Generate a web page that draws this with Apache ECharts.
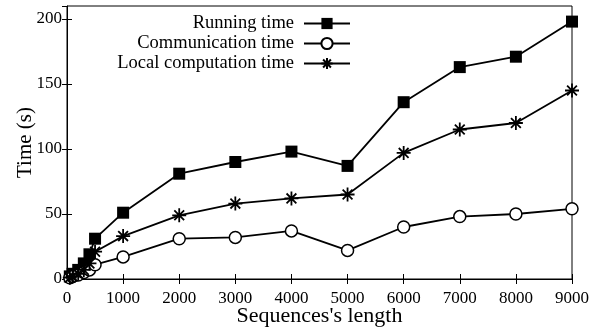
<!DOCTYPE html>
<html>
<head>
<meta charset="utf-8">
<script src="https://cdn.jsdelivr.net/npm/echarts@6/dist/echarts.min.js"></script>
<style>
  html, body { margin: 0; padding: 0; background: #fff; }
  #chart { width: 601px; height: 330px; }
</style>
</head>
<body>
<div id="chart"></div>
<script>
"use strict";

// sequence lengths (x)
var seqLengths = [50, 100, 200, 300, 400, 500, 1000, 2000, 3000, 4000, 5000, 6000, 7000, 8000, 9000];
// times in seconds
var runningTime = [2, 4, 7, 12, 19, 31, 51, 81, 90, 98, 87, 136, 163, 171, 198];
var commTime = [1, 2, 3, 5, 7, 11, 17, 31, 32, 37, 22, 40, 48, 50, 54];
var localTime = [1, 2, 4, 7, 12, 21, 33, 49, 58, 62, 65, 97, 115, 120, 145];
var seriesNames = ["Running time", "Communication time", "Local computation time"];

var FONT = "'Liberation Serif', 'DejaVu Serif', serif";
var asterisk = "path://M0 5L10 5M5 0L5 10M1.5 1.5L8.5 8.5M8.5 1.5L1.5 8.5";

function pairs(ys) {
  return seqLengths.map(function (x, i) { return [x, ys[i]]; });
}

function initChart() {
  var myChart = echarts.init(document.getElementById("chart"), null, { renderer: "canvas" });
  var tickStyle = { inside: true, length: 5, lineStyle: { color: "#000", width: 1 } };
  var option = {
    animation: false,
    backgroundColor: "#fff",
    grid: {
      left: 67, right: 29, top: 6, bottom: 51,
      outerBoundsMode: "none",
      containLabel: false,
      show: true, borderColor: "#000", borderWidth: 1, backgroundColor: "transparent"
    },
    legend: {
      data: seriesNames,
      orient: "vertical",
      align: "right",
      right: 245,
      top: 9,
      itemWidth: 46,
      itemHeight: 14,
      itemGap: 1,
      textStyle: { fontFamily: FONT, fontSize: 18.5, color: "#000", padding: [0, 5, 0, 0] }
    },
    xAxis: [
      {
        type: "value",
        min: 0, max: 9000, interval: 1000,
        name: "Sequences's length",
        nameLocation: "middle",
        nameGap: 26,
        nameMoveOverlap: false,
        nameTextStyle: { fontFamily: FONT, fontSize: 22, color: "#000" },
        axisLine: { show: true, lineStyle: { color: "#000" } },
        axisTick: tickStyle,
        axisLabel: {
          fontFamily: FONT, fontSize: 17, color: "#000", margin: 11,
          formatter: function (v) { return String(v); }
        },
        splitLine: { show: false }
      },
      {
        type: "value", position: "top",
        min: 0, max: 9000, interval: 1000,
        axisLine: { show: false },
        axisTick: tickStyle,
        axisLabel: { show: false },
        splitLine: { show: false }
      }
    ],
    yAxis: [
      {
        type: "value",
        min: 0, max: 210, interval: 50,
        name: "Time (s)",
        nameLocation: "middle",
        nameGap: 31,
        nameMoveOverlap: false,
        nameTextStyle: { fontFamily: FONT, fontSize: 21, color: "#000" },
        axisLine: { show: true, lineStyle: { color: "#000" } },
        axisTick: tickStyle,
        axisLabel: { fontFamily: FONT, fontSize: 17, color: "#000", margin: 5, showMaxLabel: false },
        splitLine: { show: false }
      },
      {
        type: "value", position: "right",
        min: 0, max: 210, interval: 50,
        axisLine: { show: false },
        axisTick: tickStyle,
        axisLabel: { show: false },
        splitLine: { show: false }
      }
    ],
    series: [
      {
        name: seriesNames[0],
        type: "line",
        data: pairs(runningTime),
        symbol: "rect",
        symbolSize: 12,
        lineStyle: { color: "#000", width: 1.8 },
        itemStyle: { color: "#000" }
      },
      {
        name: seriesNames[1],
        type: "line",
        data: pairs(commTime),
        symbol: "circle",
        symbolSize: 12,
        lineStyle: { color: "#000", width: 1.8 },
        itemStyle: { color: "#fff", borderColor: "#000", borderWidth: 1.5 }
      },
      {
        name: seriesNames[2],
        type: "line",
        data: pairs(localTime),
        symbol: asterisk,
        symbolSize: 14,
        lineStyle: { color: "#000", width: 1.8 },
        itemStyle: { color: "#000", borderColor: "#000", borderWidth: 1.8 }
      }
    ]
  };
  myChart.setOption(option);
  return myChart;
}

initChart();
</script>
</body>
</html>
